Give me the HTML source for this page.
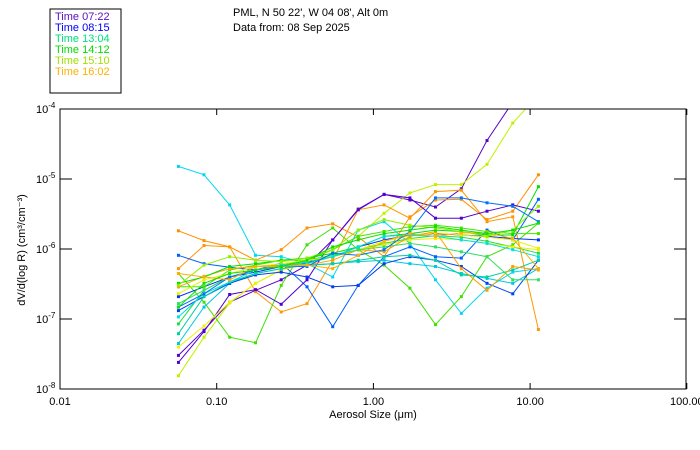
<!DOCTYPE html>
<html><head><meta charset="utf-8"><style>
body{margin:0;background:#fff;width:700px;height:450px;overflow:hidden}
svg{display:block;font-family:"Liberation Sans",sans-serif}
</style></head><body>
<svg id="chart" width="700" height="450">
<rect x="50" y="9" width="71" height="84" fill="none" stroke="#000"/>
<g font-size="11">
<text x="55" y="20" fill="#6010c0">Time 07:22</text>
<text x="55" y="31" fill="#0000ff">Time 08:15</text>
<text x="55" y="42" fill="#00e080">Time 13:04</text>
<text x="55" y="53" fill="#00e000">Time 14:12</text>
<text x="55" y="64" fill="#a0e000">Time 15:10</text>
<text x="55" y="75" fill="#ffb000">Time 16:02</text>
</g>
<text x="233" y="16" font-size="11">PML, N 50 22', W 04 08', Alt 0m</text>
<text x="233" y="31" font-size="11">Data from: 08 Sep 2025</text>
<defs><clipPath id="pc"><rect x="60" y="109" width="626" height="280"/></clipPath></defs>
<g id="series" clip-path="url(#pc)"></g>
<rect x="60" y="109" width="626" height="280" fill="none" stroke="#000"/>
<g id="axes" font-size="11"></g>
<text x="373" y="418" font-size="11" text-anchor="middle">Aerosol Size (μm)</text>
<text transform="translate(25,250) rotate(-90)" font-size="11" text-anchor="middle">dV/d(log R) (cm³/cm⁻³)</text>
</svg>
<script>
const sizes=[0.057,0.083,0.121,0.177,0.258,0.377,0.55,0.80,1.17,1.71,2.49,3.64,5.31,7.75,11.3];
const xTicks=[0.01,0.1,1,10,100];
const xTickLabels=["0.01","0.10","1.00","10.00","100.00"];
const yTicks=[-8,-7,-6,-5,-4];
const colors=["#5a00c8","#c0f000","#00d8f0","#ff9000","#ff9800","#40e000","#0060ff","#5000d0","#0030ff","#00c8e0","#20e040","#f0f000","#0040f0","#00d0a0","#40e800","#e8f000","#ffa000","#00e000","#30e060","#00e0e0","#90f000","#0070ff","#ffb000","#10e000"];
// log10 dV/dlogR per series
const s1=[-7.52,-7.16,-6.76,-6.59,-6.44,-6.23,-5.87,-5.43,-5.22,-5.30,-5.40,-5.14,-4.45,-3.9,null];
const s2=[-7.81,-7.26,-6.77,-6.49,-6.30,-6.16,-6.01,-5.82,-5.49,-5.20,-5.08,-5.08,-4.79,-4.20,-3.8];
const s3=[-4.82,-4.94,-5.37,-6.09,-6.11,-6.21,-6.40,-5.73,-5.61,-5.92,-6.44,-6.92,-6.56,-6.33,-6.28];
const s4=[-5.74,-5.88,-5.97,-6.16,-6.01,-5.70,-5.64,-5.83,-6.11,-5.54,-5.30,-5.29,-5.58,-5.46,-4.94];
const s5=[-6.28,-5.95,-5.97,-6.61,-6.90,-6.78,-6.16,-5.44,-5.37,-5.56,-5.18,-5.16,-5.61,-5.54,-7.15];
const s6=[-6.35,-6.76,-7.26,-7.34,-6.52,-5.94,-5.70,-6.01,-6.23,-6.56,-7.08,-6.68,-6.11,-5.94,-5.63];
const s7=[-6.09,-6.21,-6.26,-6.30,-6.20,-6.54,-7.11,-6.52,-6.11,-5.97,-6.11,-6.13,-5.73,-5.87,-5.29];
const s8=[-7.62,-7.18,-6.65,-6.58,-6.79,-6.44,-5.87,-5.44,-5.22,-5.27,-5.56,-5.56,-5.46,-5.37,-5.46];
const s9=[-6.68,-6.54,-6.40,-6.33,-6.25,-6.20,-6.11,-5.97,-5.87,-5.80,-5.78,-5.80,-5.82,-5.85,-5.87];
const s10=[-7.35,-6.83,-6.49,-6.35,-6.28,-6.23,-6.21,-6.18,-6.16,-6.21,-6.25,-6.35,-6.42,-6.49,-6.28];
const s11=[-7.07,-6.59,-6.40,-6.30,-6.23,-6.16,-6.09,-6.01,-5.92,-5.85,-5.81,-5.83,-5.89,-5.97,-6.06];
const s12=[-7.40,-7.10,-6.76,-6.49,-6.30,-6.21,-6.11,-6.01,-5.94,-5.87,-5.85,-5.87,-5.92,-5.97,-6.01];
const s13=[-6.88,-6.68,-6.49,-6.37,-6.33,-6.40,-6.54,-6.52,-6.21,-6.11,-6.16,-6.25,-6.49,-6.64,-6.16];
const s14=[-7.21,-6.68,-6.47,-6.35,-6.28,-6.23,-6.21,-6.16,-6.11,-6.09,-6.16,-6.37,-6.40,-6.30,-6.16];
const s15=[-6.54,-6.54,-6.30,-6.23,-6.16,-6.16,-6.01,-5.82,-5.75,-5.68,-5.66,-5.70,-5.75,-5.78,-5.78];
const s16=[-6.64,-6.44,-6.35,-6.25,-6.21,-6.16,-6.11,-6.01,-5.89,-5.81,-5.77,-5.80,-5.83,-5.87,-5.99];
const s17=[-6.54,-6.39,-6.28,-6.25,-6.23,-6.23,-6.16,-6.01,-6.04,-5.82,-5.75,-6.28,-6.59,-6.25,-6.30];
const s18=[-6.49,-6.40,-6.25,-6.21,-6.16,-6.13,-6.06,-5.97,-5.82,-5.78,-5.73,-5.75,-5.80,-5.80,-5.11];
const s19=[-6.78,-6.59,-6.40,-6.30,-6.23,-6.18,-6.11,-6.01,-5.97,-5.92,-5.97,-6.04,-6.11,-6.44,-6.44];
const s20=[-6.97,-6.64,-6.47,-6.30,-6.23,-6.21,-6.11,-5.97,-5.82,-5.80,-5.82,-5.87,-5.92,-6.01,-6.11];
const s21=[-6.52,-6.23,-6.11,-6.16,-6.18,-6.13,-6.01,-5.73,-5.58,-5.66,-5.70,-5.75,-5.82,-5.73,-5.39];
const s22=[-6.83,-6.64,-6.40,-6.30,-6.25,-6.25,-6.06,-6.09,-6.01,-5.75,-5.27,-5.27,-5.34,-5.39,-5.61];
const s23=[-6.35,-6.40,-6.44,-6.25,-6.25,-6.23,-6.28,-6.09,-5.89,-5.78,-5.82,-5.77,-5.77,-5.85,-6.28];
const s24=[-6.83,-6.49,-6.35,-6.30,-6.25,-6.16,-5.97,-5.87,-5.78,-5.73,-5.68,-5.73,-5.78,-5.73,-5.63];
const allSeries=[s1,s2,s3,s4,s5,s6,s7,s8,s9,s10,s11,s12,s13,s14,s15,s16,s17,s18,s19,s20,s21,s22,s23,s24];
const NS="http://www.w3.org/2000/svg";
function xs(d){return 60+156.7*(Math.log10(d)+2);}
function ys(l){return 389-70*(l+8);}
const sg=document.getElementById('series');
allSeries.forEach((s,k)=>{
  const g=document.createElementNS(NS,'g');
  
  
  let pts=[];
  s.forEach((v,i)=>{if(v!==null)pts.push(xs(sizes[i]).toFixed(1)+','+ys(v).toFixed(1));});
  const pl=document.createElementNS(NS,'polyline');
  pl.setAttribute('points',pts.join(' '));
  pl.setAttribute('fill','none');pl.setAttribute('stroke',colors[k]);pl.setAttribute('stroke-width','1');
  
  
  g.appendChild(pl);
  s.forEach((v,i)=>{if(v===null)return;
    const r=document.createElementNS(NS,'rect');
    r.setAttribute('x',xs(sizes[i])-1.5);r.setAttribute('y',ys(v)-1.5);
    r.setAttribute('width',3);r.setAttribute('height',3);r.setAttribute('fill',colors[k]);
    
    
    g.appendChild(r);});
  sg.appendChild(g);
});
const ax=document.getElementById('axes');
xTicks.forEach((t,i)=>{
  const x=xs(t);
  const l=document.createElementNS(NS,'line');
  l.setAttribute('x1',x);l.setAttribute('x2',x);l.setAttribute('y1',389);l.setAttribute('y2',383);l.setAttribute('stroke','#000');
  
  
  ax.appendChild(l);
  const l2=document.createElementNS(NS,'line');
  l2.setAttribute('x1',x);l2.setAttribute('x2',x);l2.setAttribute('y1',109);l2.setAttribute('y2',115);l2.setAttribute('stroke','#000');
  
  
  ax.appendChild(l2);
  const tx=document.createElementNS(NS,'text');
  tx.setAttribute('x',x);tx.setAttribute('y',405);tx.setAttribute('text-anchor','middle');tx.textContent=xTickLabels[i];
  
  
  ax.appendChild(tx);
});
yTicks.forEach(t=>{
  const y=ys(t);
  const l=document.createElementNS(NS,'line');
  l.setAttribute('x1',60);l.setAttribute('x2',72);l.setAttribute('y1',y);l.setAttribute('y2',y);l.setAttribute('stroke','#000');
  
  
  ax.appendChild(l);
  const l2=document.createElementNS(NS,'line');
  l2.setAttribute('x1',674);l2.setAttribute('x2',686);l2.setAttribute('y1',y);l2.setAttribute('y2',y);l2.setAttribute('stroke','#000');
  
  
  ax.appendChild(l2);
  const tx=document.createElementNS(NS,'text');
  tx.setAttribute('x',36);tx.setAttribute('y',y+4);
  
  
  tx.innerHTML='10<tspan dy="-5" font-size="8">'+t+'</tspan>';
  ax.appendChild(tx);
});
</script>
</body></html>
